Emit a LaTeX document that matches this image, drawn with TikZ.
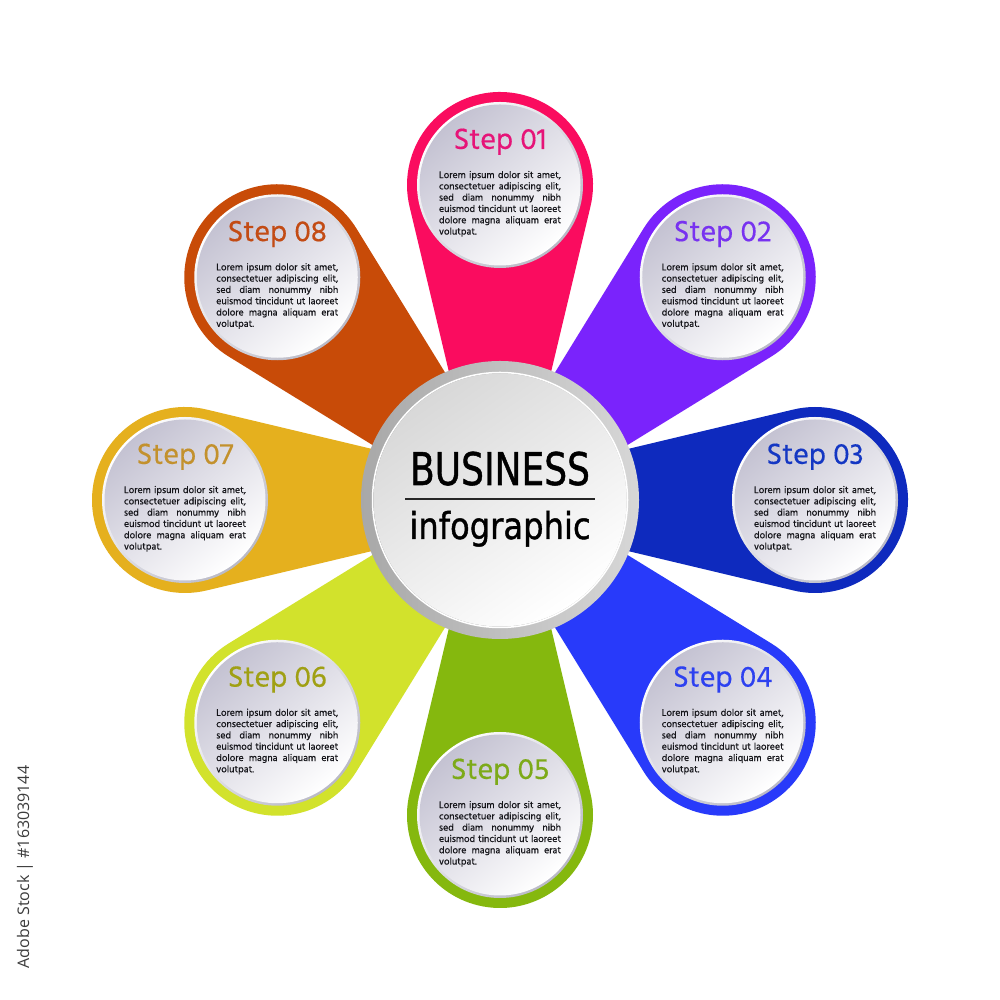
\documentclass[tikz,border=0pt]{standalone}
\usepackage{fontspec}
\usepackage{graphicx}
\setmainfont{Liberation Sans}
\newfontfamily\bodyfont[FakeBold=0.7]{Hind Madurai}
\newfontfamily\titlefont[FakeBold=0.4]{Hind Madurai}
\newfontfamily\bizfont[FakeBold=1.2]{DejaVu Sans}
\newfontfamily\wmfont{Open Sans}
% petal colours
\definecolor{p1}{RGB}{250,12,95}
\definecolor{p2}{RGB}{122,35,252}
\definecolor{p3}{RGB}{14,42,190}
\definecolor{p4}{RGB}{40,58,250}
\definecolor{p5}{RGB}{133,184,14}
\definecolor{p6}{RGB}{210,226,44}
\definecolor{p7}{RGB}{229,176,30}
\definecolor{p8}{RGB}{200,75,8}
% title colours
\definecolor{t1}{RGB}{230,20,120}
\definecolor{t2}{RGB}{120,50,240}
\definecolor{t3}{RGB}{20,55,195}
\definecolor{t4}{RGB}{45,65,240}
\definecolor{t5}{RGB}{125,170,25}
\definecolor{t6}{RGB}{160,160,20}
\definecolor{t7}{RGB}{195,145,45}
\definecolor{t8}{RGB}{195,75,20}
\definecolor{innergray}{RGB}{196,194,210}
\definecolor{rimgray}{RGB}{185,185,198}
\definecolor{ringdark}{RGB}{168,168,168}
\definecolor{ringlight}{RGB}{215,215,215}
\definecolor{hubgray}{RGB}{216,216,216}
\definecolor{bodytext}{RGB}{20,20,25}
\definecolor{wmtext}{RGB}{60,60,60}
\newcommand{\loremtext}{%
\parbox[t]{122pt}{\bodyfont\fontsize{9.9}{11.3}\selectfont\color{bodytext}%
\makebox[122pt][s]{Lorem ipsum dolor sit amet,}\\
\makebox[122pt][s]{consectetuer adipiscing elit,}\\
\makebox[122pt][s]{sed diam nonummy nibh}\\
\makebox[122pt][s]{euismod tincidunt ut laoreet}\\
\makebox[122pt][s]{dolore magna aliquam erat}\\
volutpat.}}
\tikzset{
  titlestyle/.style={font=\titlefont\fontsize{30}{30}\selectfont, inner sep=0pt, anchor=base},
  bodystyle/.style={inner sep=0pt, anchor=base},
}
\begin{document}
\begin{tikzpicture}[x=1pt,y=1pt]
\useasboundingbox (0,0) rectangle (1000,1000);
\fill[white] (0,0) rectangle (1000,1000);
% petals
\foreach \ang/\pc in {90/p1,45/p2,0/p3,-45/p4,-90/p5,-135/p6,180/p7,135/p8}{
  \begin{scope}[shift={(500,500)},rotate=\ang]
    \fill[\pc] (-4.63,-19.45) -- (293.45,-90.46)
      arc[start angle=-103.4, end angle=103.4, radius=93pt]
      -- (-4.63,19.45) -- cycle;
  \end{scope}
}
% inner discs and texts
\foreach \k/\ang/\tc in {01/90/t1,02/45/t2,03/0/t3,04/-45/t4,05/-90/t5,06/-135/t6,07/180/t7,08/135/t8}{
  \path (500,500) ++(\ang:315) coordinate (c\k);
  \shade[top color=white, bottom color=rimgray, shading angle=45] (c\k) circle[radius=83pt];
  \shade[top color=innergray, bottom color=white, shading angle=40] (c\k) circle[radius=80.5pt];
  \node[titlestyle, text=\tc] (title\k) at ([yshift=36pt]c\k) {Step \k};
  \node[bodystyle] (body\k) at ([xshift=0pt,yshift=14pt]c\k) {\loremtext};
}
% hub
\node[circle, minimum size=278pt, inner sep=0pt, left color=ringdark, right color=ringlight] (hub) at (500,500) {};
\draw[white, line width=1.5pt] (hub.center) circle[radius=127.5pt];
\shade[top color=hubgray, bottom color=white, shading angle=35] (hub.center) circle[radius=126.5pt];
\node[anchor=base, inner sep=0pt] (biz) at (500,515) {\scalebox{0.8}[1]{\bizfont\fontsize{45}{45}\selectfont BUSINESS}};
\coordinate (ruleL) at (405,501);
\coordinate (ruleR) at (595,501);
\draw[line width=2pt, black!85] (ruleL) -- (ruleR);
\node[anchor=base, inner sep=0pt] (info) at (500,461) {\scalebox{0.87}[1]{\bizfont\fontsize{37}{37}\selectfont infographic}};
% side label
\node[rotate=90, text=wmtext, inner sep=0pt] (wm) at (25,133) {\wmfont\fontsize{16}{16}\selectfont Adobe Stock | \#163039144};
\end{tikzpicture}
\end{document}
